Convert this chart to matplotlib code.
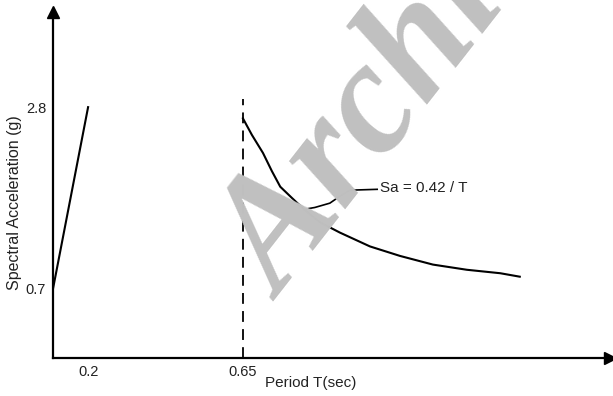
import matplotlib
matplotlib.use('Agg')
import matplotlib.pyplot as plt

# schematic x positions (drawing units), y = spectral acceleration (g)
rise_x = [0.0, 0.63]
rise_sa = [0.7, 2.8]

decay_x = [3.41, 3.57, 3.77, 3.93, 4.08, 4.29, 4.52, 4.79, 5.15, 5.69, 6.23, 6.82, 7.43, 8.03, 8.38]
decay_sa = [2.67, 2.48, 2.27, 2.06, 1.88, 1.75, 1.61, 1.47, 1.35, 1.19, 1.08, 0.98, 0.92, 0.88, 0.84]

leader_x = [4.52, 4.70, 4.97, 5.15, 5.33, 5.82]
leader_sa = [1.62, 1.64, 1.69, 1.77, 1.84, 1.85]

corner_x = 3.41
corner_top = 2.9

xtick_pos = [0.63, 3.41]
xtick_labels = ['0.2', '0.65']
ytick_pos = [0.7, 2.8]
ytick_labels = ['0.7', '2.8']

W, H = 613, 396
fig = plt.figure(figsize=(W/100, H/100), dpi=100)
ax = fig.add_axes([53/W, (H-358)/H, (610-53)/W, (358-12)/H])
ax.set_xlim(0, 10)
ax.set_ylim(-0.1, 3.9)

txt = dict(family='Liberation Sans', color='#222222')

ax.plot(rise_x, rise_sa, color='black', lw=1.5, zorder=3)
ax.plot(decay_x, decay_sa, color='black', lw=1.5, zorder=3)
ax.plot(leader_x, leader_sa, color='black', lw=1.2, zorder=3)
ax.plot([corner_x, corner_x], [-0.1, corner_top], color='black', lw=1.3,
        dashes=(6, 4), zorder=6)
ax.text(5.87, 1.86, 'Sa = 0.42 / T', fontsize=11, ha='left', va='center', **txt)

for s in ['top', 'right']:
    ax.spines[s].set_visible(False)
for s in ['left', 'bottom']:
    ax.spines[s].set_linewidth(1.6)

# arrow heads on the axes
ax.plot(1, 0, '>', color='black', ms=8, transform=ax.transAxes, clip_on=False)
ax.plot(0, 1, '^', color='black', ms=8, transform=ax.transAxes, clip_on=False)

ax.set_xticks(xtick_pos)
ax.set_xticklabels(xtick_labels, fontsize=10.5, **txt)
ax.set_yticks(ytick_pos)
ax.set_yticklabels(ytick_labels, fontsize=10.5, **txt)
ax.tick_params(length=0, pad=5)

fig.text(15/W, 1-203/H, 'Spectral Acceleration (g)', rotation=90, ha='center',
         va='center', fontsize=11.5, **txt)
fig.text(311/W, 1-383/H, 'Period T(sec)', ha='center', va='center', fontsize=11, **txt)

# watermark
fig.text(282/W, 1-302/H, 'Archive', rotation=52, rotation_mode='anchor',
         ha='left', va='baseline', fontsize=115, family='Liberation Serif',
         style='italic', weight='bold', color='#c0c0c0', zorder=5)

fig.savefig('out.png', dpi=100)
